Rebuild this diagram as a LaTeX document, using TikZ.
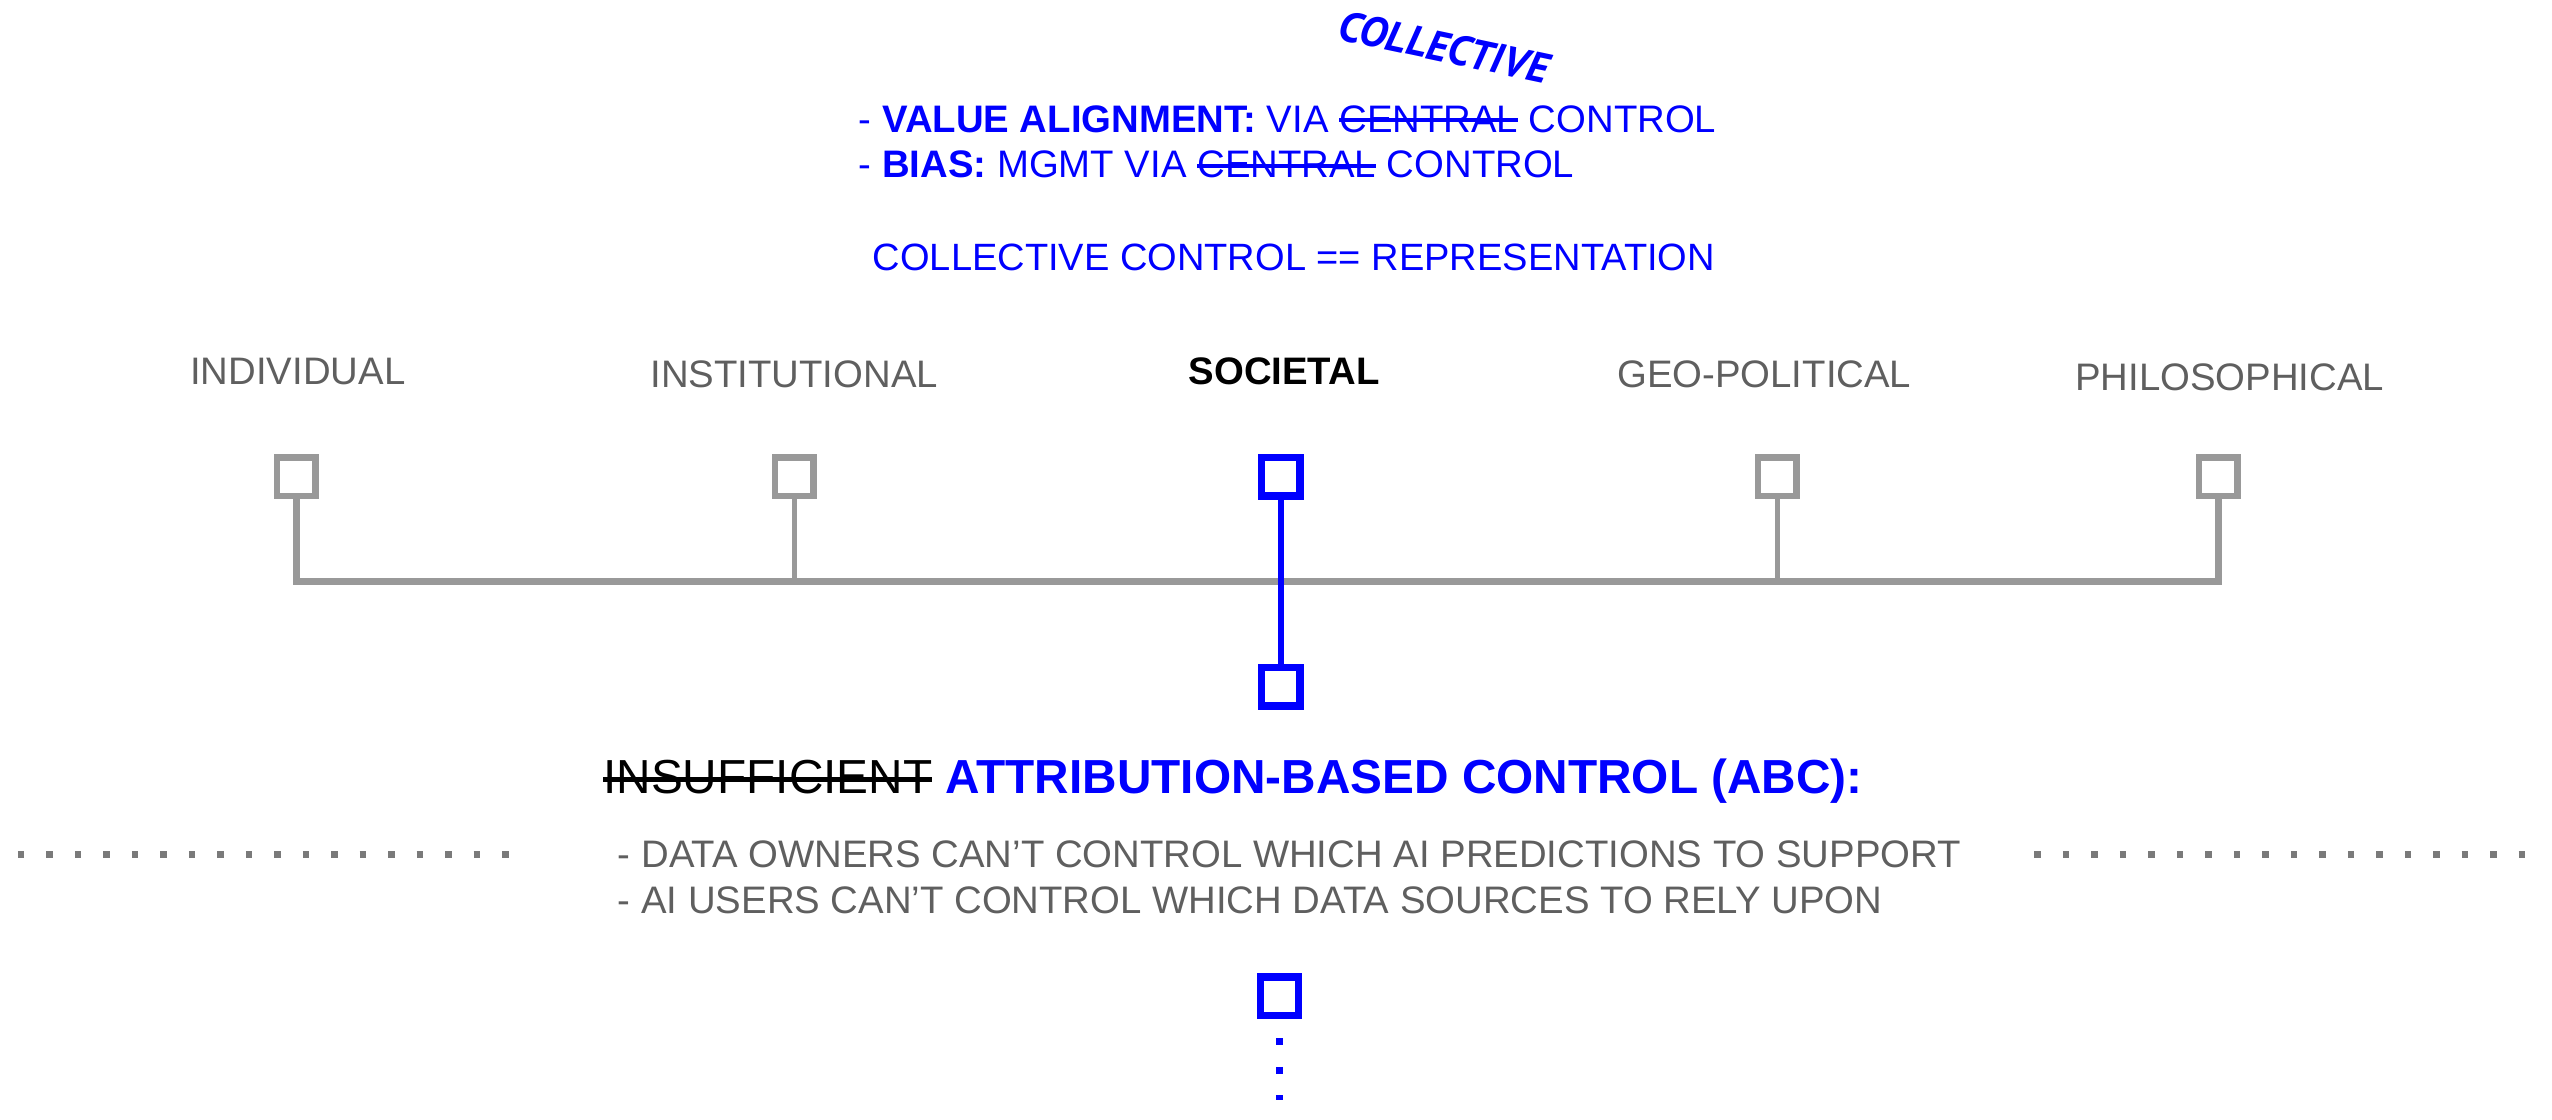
\documentclass[tikz,border=0pt]{standalone}
\usepackage{fontspec}
\setmainfont{Liberation Sans}
\newfontfamily\handfont{PT Sans}
\usetikzlibrary{positioning}
\definecolor{abcblue}{RGB}{0,0,255}
\definecolor{linegray}{RGB}{153,153,153}
\definecolor{textgray}{RGB}{95,95,95}
\newsavebox{\strikebox}
\newcommand{\strikeout}[1]{\sbox\strikebox{#1}\rlap{\rule[0.36\ht\strikebox]{\wd\strikebox}{0.75pt}}\usebox\strikebox}

\begin{document}
\begin{tikzpicture}[x=0.1mm, y=-0.1mm, inner sep=0pt,
  level/.style={text=textgray, font=\fontsize{6.7}{8}\selectfont},
  box/.style={draw=linegray, line width=1.14pt, minimum size=6.7pt},
  bluebox/.style={box, draw=abcblue, line width=1.25pt},
  stem/.style={draw=linegray, line width=0.85pt},
  bus/.style={draw=linegray, line width=1.25pt},
  bluestem/.style={draw=abcblue, line width=1.1pt},
  graydots/.style={draw=linegray!80!black, line width=1.14pt, dash pattern=on 1.14pt off 3.84pt},
  bluedots/.style={draw=abcblue, line width=1.22pt, dash pattern=on 1.22pt off 3.76pt, dash phase=1.56pt}]
  \useasboundingbox (0,0) rectangle (1568,688);

  % top notes
  \node[text=abcblue, font=\handfont\bfseries\itshape\fontsize{7.4}{8}\selectfont, rotate=-12] (collective) at (887,29) {COLLECTIVE};
  \node[text=abcblue, font=\fontsize{6.7}{7.97}\selectfont, align=left, anchor=west] (notes) at (527,87)
    {- \textbf{VALUE ALIGNMENT:} VIA \strikeout{CENTRAL} CONTROL\\- \textbf{BIAS:} MGMT VIA \strikeout{CENTRAL} CONTROL};
  \node[text=abcblue, font=\fontsize{6.65}{8}\selectfont] (repr) at (795,158) {COLLECTIVE CONTROL == REPRESENTATION};

  % levels
  \node[level] (l1) at (183,228) {INDIVIDUAL};
  \node[level] (l2) at (488,230) {INSTITUTIONAL};
  \node[level, text=black, font=\bfseries\fontsize{6.7}{8}\selectfont] (l3) at (789,228) {SOCIETAL};
  \node[level] (l4) at (1084,230) {GEO-POLITICAL};
  \node[level] (l5) at (1370,232) {PHILOSOPHICAL};

  \node[box]     (ind)  at (182,293)  {};
  \node[box]     (inst) at (488,293)  {};
  \node[bluebox] (soc)  at (787,293)  {};
  \node[box]     (geo)  at (1092,293) {};
  \node[box]     (phil) at (1363,293) {};
  \node[bluebox] (abc)  at (787,422)  {};
  \node[bluebox] (next) at (786,612)  {};

  \coordinate (hub) at (787,357.5);
  \draw[bus] (ind.south) |- (hub) -| (phil.south);
  \draw[stem] (inst.south) -- (inst.south |- hub);
  \draw[stem] (geo.south) -- (geo.south |- hub);
  \draw[bluestem] (soc.south) -- (abc.north);

  % attribution-based control
  \node[anchor=west, font=\fontsize{8.35}{10}\selectfont] (title) at (370,480)
    {\strikeout{INSUFFICIENT} \textcolor{abcblue}{\bfseries ATTRIBUTION-BASED CONTROL (ABC):}};
  \node[level, align=left, anchor=west, font=\fontsize{6.7}{7.97}\selectfont] (issues) at (379,539)
    {- DATA OWNERS CAN’T CONTROL WHICH AI PREDICTIONS TO SUPPORT\\- AI USERS CAN’T CONTROL WHICH DATA SOURCES TO RELY UPON};

  \coordinate (dl1) at (11,525);
  \coordinate (dl2) at (316,525);
  \coordinate (dr1) at (1250,525);
  \coordinate (dr2) at (1556,525);
  \draw[graydots] (dl1) -- (dl2);
  \draw[graydots] (dr1) -- (dr2);

  \coordinate (tail) at (786,676);
  \draw[bluedots] (next.south) -- (tail);
\end{tikzpicture}
\end{document}
